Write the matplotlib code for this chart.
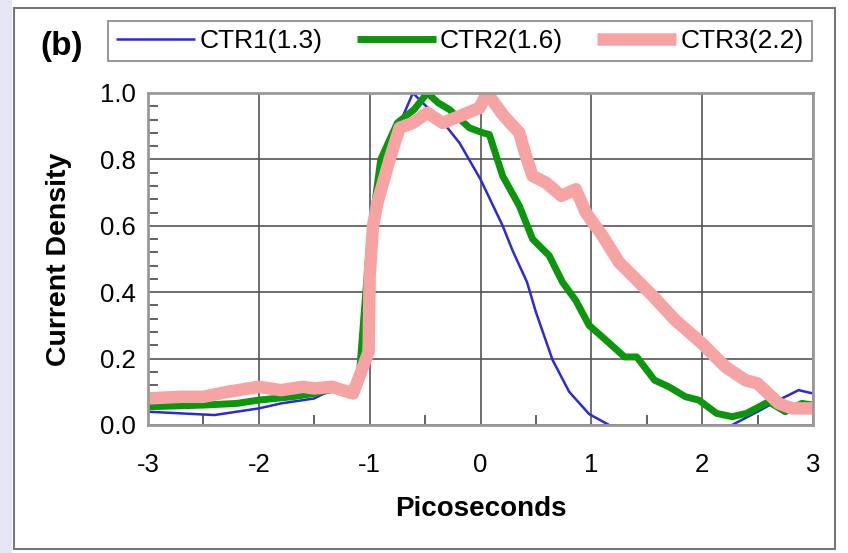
import matplotlib.pyplot as plt
from matplotlib.patches import Rectangle
from matplotlib.ticker import MultipleLocator

# current density traces, one (x, y) pair of lists per series
ctr1_x = [-3.0, -2.7, -2.4, -2.2, -2.0, -1.8, -1.5, -1.35, -1.2, -1.1, -1.05, -1.0, -0.9, -0.79,
          -0.7, -0.61, -0.49, -0.31, -0.19, 0.0, 0.2, 0.29, 0.42, 0.5, 0.65, 0.8, 0.98, 1.16,
          1.3, 1.6, 1.9, 2.1, 2.27, 2.5, 2.69, 2.87, 3.0]
ctr1_y = [0.04, 0.035, 0.03, 0.04, 0.05, 0.065, 0.08, 0.105, 0.10, 0.15, 0.235, 0.59, 0.78, 0.88,
          0.93, 1.0, 0.96, 0.90, 0.85, 0.74, 0.6, 0.525, 0.43, 0.34, 0.196, 0.1, 0.033, 0.0,
          -0.03, -0.05, -0.05, -0.03, 0.0, 0.04, 0.075, 0.105, 0.095]

ctr2_x = [-3.0, -2.5, -2.2, -2.0, -1.7, -1.5, -1.3, -1.2, -1.1, -1.0, -0.9, -0.75, -0.6, -0.48,
          -0.38, -0.28, -0.1, 0.02, 0.08, 0.2, 0.35, 0.47, 0.62, 0.74, 0.86, 0.98, 1.1, 1.3,
          1.41, 1.57, 1.7, 1.85, 1.97, 2.13, 2.27, 2.4, 2.6, 2.75, 2.9, 3.0]
ctr2_y = [0.055, 0.06, 0.065, 0.075, 0.085, 0.095, 0.11, 0.105, 0.12, 0.55, 0.8, 0.91, 0.95, 1.0,
          0.97, 0.95, 0.895, 0.88, 0.875, 0.75, 0.66, 0.56, 0.51, 0.43, 0.375, 0.30, 0.265, 0.205,
          0.205, 0.135, 0.115, 0.085, 0.075, 0.035, 0.025, 0.035, 0.07, 0.04, 0.065, 0.06]

ctr3_x = [-3.0, -2.7, -2.5, -2.28, -2.0, -1.8, -1.6, -1.5, -1.34, -1.15, -1.01, -1.0, -0.97,
          -0.93, -0.82, -0.73, -0.61, -0.48, -0.34, -0.19, -0.01, 0.06, 0.2, 0.35, 0.41, 0.47,
          0.59, 0.73, 0.86, 0.95, 1.1, 1.25, 1.4, 1.55, 1.76, 2.0, 2.21, 2.39, 2.5, 2.69, 2.81, 3.0]
ctr3_y = [0.08, 0.085, 0.085, 0.1, 0.115, 0.105, 0.115, 0.11, 0.115, 0.095, 0.22, 0.45, 0.6,
          0.67, 0.80, 0.895, 0.91, 0.94, 0.91, 0.93, 0.955, 1.0, 0.935, 0.88, 0.81, 0.75,
          0.73, 0.69, 0.71, 0.64, 0.57, 0.49, 0.44, 0.39, 0.315, 0.245, 0.175, 0.135, 0.125, 0.065, 0.05, 0.05]

labels = ['CTR1(1.3)', 'CTR2(1.6)', 'CTR3(2.2)']
colors = ['#2a2ad8', '#0c960c', '#f5a3a3']
widths = [1.8, 5.0, 9.0]

plt.rcParams['font.family'] = 'Liberation Sans'

fig = plt.figure(figsize=(8.48, 5.53), dpi=100)

# pale strip on the left and the outer frame
fig.patches.append(Rectangle((0, 0), 12 / 848, 1, transform=fig.transFigure,
                             facecolor='#e6e6f2', edgecolor='none', zorder=0))
fig.patches.append(Rectangle((14 / 848, 1 - 549 / 553), 821 / 848, 541 / 553,
                             transform=fig.transFigure, fill=False,
                             edgecolor='#777777', lw=1.5, zorder=1))

ax = fig.add_axes([148 / 848, 1 - 425 / 553, 665 / 848, 332 / 553])

series = [(ctr1_x, ctr1_y), (ctr2_x, ctr2_y), (ctr3_x, ctr3_y)]
for (xs, ys), lab, c, w in zip(series, labels, colors, widths):
    ax.plot(xs, ys, color=c, lw=w, label=lab, solid_joinstyle='round', solid_capstyle='butt')

ax.set_xlim(-3, 3)
ax.set_ylim(0, 1)
ax.xaxis.set_major_locator(MultipleLocator(1))
ax.xaxis.set_minor_locator(MultipleLocator(0.5))
ax.yaxis.set_major_locator(MultipleLocator(0.2))
ax.yaxis.set_minor_locator(MultipleLocator(0.04))
ax.yaxis.set_major_formatter(lambda v, p: f'{v:.1f}')
ax.xaxis.set_major_formatter(lambda v, p: f'{v:.0f}')

ax.grid(True, which='major', color='#555555', lw=1.2)
ax.set_axisbelow(True)
ax.tick_params(which='major', length=0, labelsize=18.5, pad=9)
ax.tick_params(axis='x', which='major', pad=20)
ax.tick_params(which='minor', direction='in', length=7, width=1.3, color='#555555')
for s in ax.spines.values():
    s.set_color('#999999')
    s.set_linewidth(2)

ax.set_xlabel('Picoseconds', fontsize=20, fontweight='bold', labelpad=14)
ax.set_ylabel('Current Density', fontsize=20.5, fontweight='bold', labelpad=20)

fig.text(62 / 848, 1 - 46 / 553, '(b)', fontsize=24, fontweight='bold', ha='center', va='center')

leg = ax.legend(loc='center', bbox_to_anchor=(460 / 848, 1 - 41 / 553), bbox_transform=fig.transFigure,
                ncol=3, fontsize=19, frameon=True, fancybox=False, handlelength=3.0,
                handletextpad=0.15, columnspacing=1.3, borderpad=0.3)
leg.get_frame().set_edgecolor('#666666')
leg.get_frame().set_linewidth(1.2)

fig.savefig('out.png', dpi=100)
